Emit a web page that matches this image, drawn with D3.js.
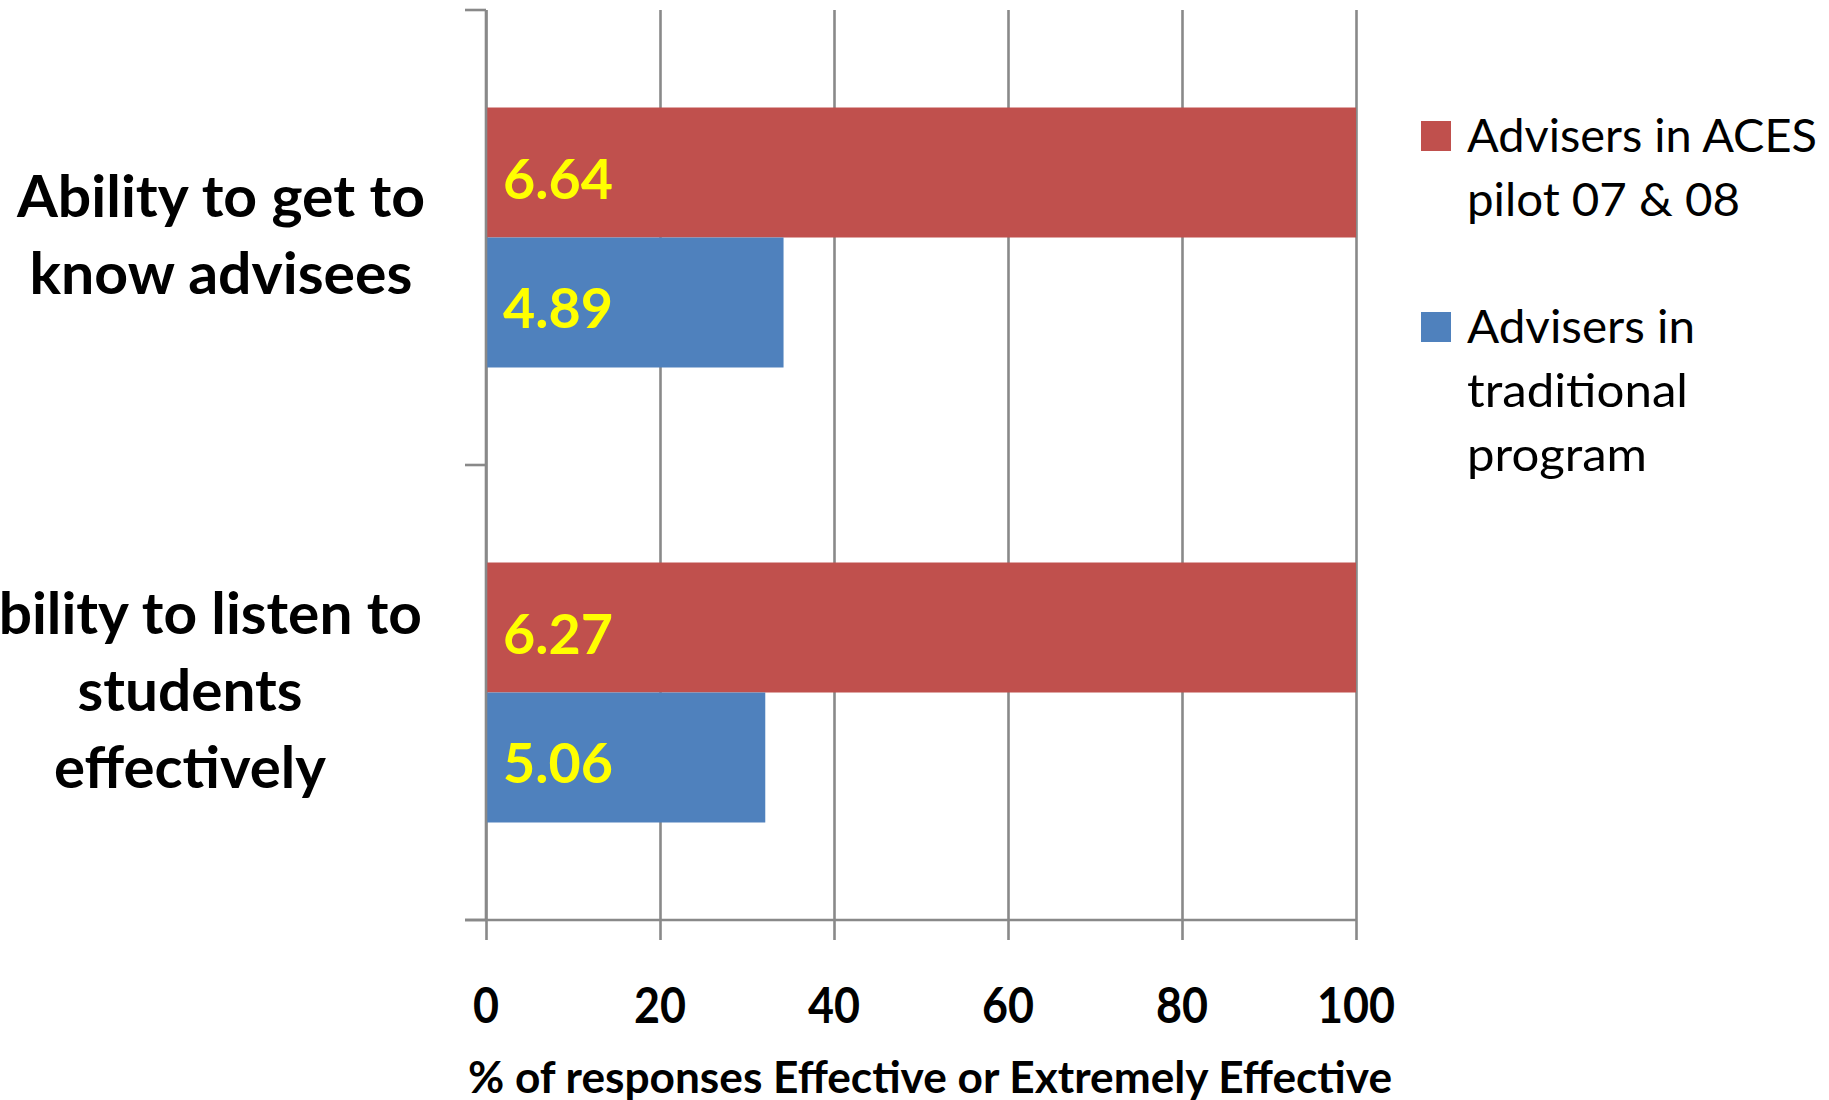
<!DOCTYPE html>
<html>
<head>
<meta charset="utf-8">
<script src="https://cdn.jsdelivr.net/npm/d3@7"></script>
<style>
  html, body { margin: 0; padding: 0; background: #ffffff; }
  svg { display: block; }
  text { font-family: Lato, "Open Sans", "DejaVu Sans", sans-serif; }
</style>
</head>
<body>
<svg id="chart" width="1829" height="1100"></svg>
<script>
// ---- data ----
const categories = ["Ability to get to know advisees", "Ability to listen to students effectively"];
const categoryLines = [["Ability to get to", "know advisees"], ["Ability to listen to", "students", "effectively"]];
const seriesNames = ["Advisers in ACES pilot 07 & 08", "Advisers in traditional program"];
const legendLines = [["Advisers in ACES", "pilot 07 & 08"], ["Advisers in", "traditional", "program"]];
const acesValues = [100, 100];          // % effective / extremely effective
const traditionalValues = [34.2, 32.1];
const acesLabels = ["6.64", "6.27"];     // mean scores shown on bars
const traditionalLabels = ["4.89", "5.06"];
const xTicks = [0, 20, 40, 60, 80, 100];
const xTitle = "% of responses Effective or Extremely Effective";

// ---- layout ----
const colors = ["#C0504D", "#4F81BD"];
const gridColor = "#898989";
const svg = d3.select("#chart");

const x = d3.scaleLinear().domain([0, 100]).range([486, 1356]);
const y = d3.scaleBand().domain(categories).range([10, 920]).paddingInner(0.4286).paddingOuter(0.2143);
const ys = d3.scaleBand().domain(seriesNames).range([0, y.bandwidth()]);

const seriesData = [
  { name: seriesNames[0], values: acesValues, labels: acesLabels, color: colors[0] },
  { name: seriesNames[1], values: traditionalValues, labels: traditionalLabels, color: colors[1] }
];

// gridlines (vertical) via axis
const gridAxis = d3.axisBottom(x).tickValues(xTicks).tickSize(-(920 - 10)).tickFormat("");
const g = svg.append("g").attr("transform", "translate(0,920)").call(gridAxis);
g.select(".domain").remove();
g.selectAll(".tick line").attr("stroke", gridColor).attr("stroke-width", 2.6);

// ticks below axis
const tickAxis = d3.axisBottom(x).tickValues(xTicks).tickSize(20).tickFormat("");
const ta = svg.append("g").attr("transform", "translate(0,920)").call(tickAxis);
ta.select(".domain").remove();
ta.selectAll(".tick line").attr("stroke", gridColor).attr("stroke-width", 2.6);

// bars
const groups = svg.append("g").selectAll("g.series").data(seriesData).join("g").attr("class", "series");
groups.selectAll("rect").data(s => categories.map((c, i) => ({ c, v: s.values[i], name: s.name, color: s.color })))
  .join("rect")
  .attr("x", x(0))
  .attr("y", d => y(d.c) + ys(d.name))
  .attr("width", d => x(d.v) - x(0))
  .attr("height", ys.bandwidth())
  .attr("fill", d => d.color);

// left axis line + ticks at category boundaries
const step = y.step();
const bounds = [y.range()[0]].concat(categories.map(c => y(c) + y.bandwidth() + step * y.paddingInner() / 2));
bounds[bounds.length - 1] = y.range()[1];
svg.append("line").attr("x1", x(0)).attr("x2", x(0)).attr("y1", y.range()[0]).attr("y2", y.range()[1])
  .attr("stroke", gridColor).attr("stroke-width", 2.6);
svg.append("g").selectAll("line").data(bounds).join("line")
  .attr("x1", x(0) - 21).attr("x2", x(0)).attr("y1", d => d).attr("y2", d => d)
  .attr("stroke", gridColor).attr("stroke-width", 2.6);
// bottom axis line
svg.append("line").attr("x1", x(0) - 21).attr("x2", x(100)).attr("y1", 920).attr("y2", 920)
  .attr("stroke", gridColor).attr("stroke-width", 2.6);

// data labels
groups.selectAll("text").data(s => categories.map((c, i) => ({ c, lab: s.labels[i], name: s.name })))
  .join("text")
  .attr("x", x(0) + 17)
  .attr("y", d => y(d.c) + ys(d.name) + ys.bandwidth() / 2 + 26)
  .attr("fill", "#FFFF00")
  .attr("font-weight", 700)
  .attr("font-size", 56)
  .attr("textLength", 110)
  .attr("lengthAdjust", "spacingAndGlyphs")
  .text(d => d.lab);

// x tick labels
svg.append("g").selectAll("text").data(xTicks).join("text")
  .attr("x", d => x(d))
  .attr("y", 1023)
  .attr("text-anchor", "middle")
  .attr("font-weight", 700)
  .attr("font-size", 49)
  .attr("textLength", d => String(d).length * 26)
  .attr("lengthAdjust", "spacingAndGlyphs")
  .text(d => d);

// x title
svg.append("text")
  .attr("x", 468).attr("y", 1093)
  .attr("font-weight", 700).attr("font-size", 43)
  .attr("textLength", 924).attr("lengthAdjust", "spacingAndGlyphs")
  .text(xTitle);

// category labels
const catCenters = [221, 190];
const catWidths = [[408, 383], [464, 225, 272]];
categories.forEach((c, i) => {
  const lines = categoryLines[i];
  const cy = y(c) + y.bandwidth() / 2;
  lines.forEach((ln, j) => {
    svg.append("text")
      .attr("x", catCenters[i])
      .attr("y", cy + (j - (lines.length - 1) / 2) * 77 + 18)
      .attr("text-anchor", "middle")
      .attr("font-weight", 700)
      .attr("font-size", 58)
      .attr("textLength", catWidths[i][j])
      .attr("lengthAdjust", "spacingAndGlyphs")
      .text(ln);
  });
});

// legend
const legendTop = [121, 312];
const legendWidths = [[350, 273], [228, 221, 180]];
seriesNames.forEach((s, i) => {
  svg.append("rect").attr("x", 1421).attr("y", legendTop[i]).attr("width", 30).attr("height", 30).attr("fill", colors[i]);
  legendLines[i].forEach((ln, j) => {
    svg.append("text")
      .attr("x", 1467)
      .attr("y", legendTop[i] + 31 + j * 64)
      .attr("font-size", 47)
      .attr("textLength", legendWidths[i][j])
      .attr("lengthAdjust", "spacingAndGlyphs")
      .text(ln);
  });
});
</script>
</body>
</html>
